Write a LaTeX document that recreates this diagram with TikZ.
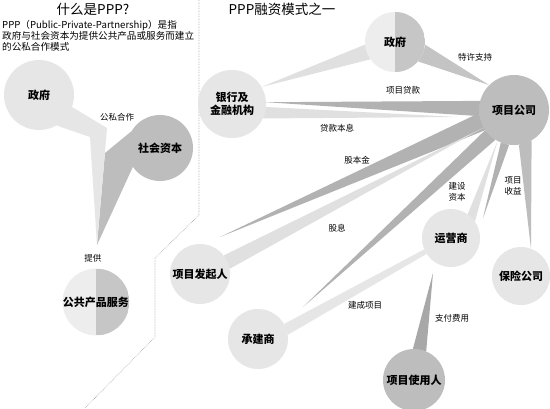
\documentclass[tikz,border=0pt]{standalone}
\usepackage{fontspec}
\setmainfont{Noto Sans CJK SC}
\usetikzlibrary{backgrounds,calc}
\definecolor{lt}{HTML}{E6E6E6}
\definecolor{ltb}{HTML}{EDEDED}
\definecolor{mid}{HTML}{BDBDBD}
\definecolor{halfd}{HTML}{C6C6C6}
\definecolor{bandL}{HTML}{E0E0E0}
\definecolor{bandM}{HTML}{C4C4C4}
\definecolor{bandD}{HTML}{B2B2B2}
\definecolor{bandX}{HTML}{A8A8A8}
\begin{document}
\begin{tikzpicture}[x=1pt,y=-1pt,
  circ/.style={circle,inner sep=0pt,minimum size=#1,
    font=\fontsize{11}{13}\selectfont\bfseries,text=black,align=center},
  halfc/.style={fill=ltb,path picture={\fill[halfd]
    (path picture bounding box.north) rectangle (path picture bounding box.south east);}},
  lab/.style={font=\fontsize{8.5}{10.5}\selectfont,inner sep=0pt,align=center},
  ttl/.style={font=\fontsize{13.5}{16}\selectfont,inner sep=0pt},
  desc/.style={font=\fontsize{9.6}{11}\selectfont,inner sep=0pt,anchor=west},
  divider/.style={densely dotted,gray!70,line width=0.6pt}]
\useasboundingbox (0,0) rectangle (550,408);

% ---------- left panel ----------
\node[ttl] (t1) at (93,9) {什么是PPP?};
\node[desc] (d1) at (2,25) {PPP（Public-Private-Partnership）是指};
\node[desc] (d2) at (2,36) {政府与社会资本为提供公共产品或服务而建立};
\node[desc] (d3) at (2,47) {的公私合作模式};

\node[circ=70pt,fill=lt] (gL) at (39,95) {政府};
\node[circ=66pt,fill=mid] (sh) at (160,148) {社会资本};
\node[circ=66pt,halfc] (gg) at (96,302) {公共产品服务};
\coordinate (tipL) at (97,245);

\node[lab] (l1) at (117,117) {公私合作};
\node[lab] (l2) at (93,258) {提供};

% ---------- divider ----------
\coordinate (v1) at (199,0);
\coordinate (v2) at (199,215);
\coordinate (v3) at (155,258);
\coordinate (v4) at (155,337);
\coordinate (v5) at (85,408);
\draw[divider] (v1) -- (v2) -- (v3) -- (v4) -- (v5);

% ---------- right panel ----------
\node[ttl] (t2) at (282,9) {PPP融资模式之一};

\node[circ=60pt,halfc] (gR) at (395,42) {政府};
\node[circ=70pt,fill=mid] (pc) at (514,110) {项目公司};
\node[circ=68pt,fill=lt] (bk) at (232,104) {银行及\\金融机构};
\node[circ=60pt,fill=lt] (fd) at (200,274) {项目发起人};
\node[circ=60pt,fill=lt] (cj) at (258,339) {承建商};
\node[circ=58pt,fill=lt] (yy) at (451,238) {运营商};
\node[circ=58pt,fill=lt] (bx) at (521,276) {保险公司};
\node[circ=62pt,fill=mid] (yh) at (414,380) {项目使用人};

\coordinate (tA) at (457,117);
\coordinate (tB) at (220,237);
\coordinate (tC) at (303,307);
\coordinate (tD) at (483,218);
\coordinate (tE) at (433,273);

\node[lab] (a1) at (475,57) {特许支持};
\node[lab] (a2) at (403,90) {项目贷款};
\node[lab] (a3) at (337,128) {贷款本息};
\node[lab] (a4) at (357,160) {股本金};
\node[lab] (a5) at (337,228) {股息};
\node[lab] (a6) at (457,192) {建设\\资本};
\node[lab] (a7) at (513,186) {项目\\收益};
\node[lab] (a8) at (365,305) {建成项目};
\node[lab] (a9) at (452,318) {支付费用};

\begin{pgfonlayer}{background}
  \fill[white] (0,0) rectangle (550,408);
  % left panel bands
  \fill[mid] (sh.150) -- (105,153) -- (tipL) -- (sh.215) -- cycle;
  \fill[lt] (gL.-20) -- (107,128) -- (tipL) -- (90,137) -- (gL.-60) -- cycle;
  % right panel bands
  \fill[bandM] (gR.-5) -- (pc.135) -- (gR.-40) -- cycle;
  \fill[bandL] (bk.30) -- (gR.185) -- (gR.215) -- cycle;
  \fill[bandD] (bk.3) -- (pc.165) -- (pc.190) -- cycle;
  \fill[bandL] (bk.-5) -- (tA) -- (bk.-25) -- cycle;
  \fill[bandD] (tB) -- (pc.185) -- (pc.215) -- cycle;
  \fill[bandL] (fd.38) -- (pc.210) -- (fd.10) -- cycle;
  \fill[bandD] (tC) -- (pc.215) -- (pc.238) -- cycle;
  \fill[bandL] (yy.55) -- (pc.242) -- (yy.35) -- cycle;
  \fill[bandD] (tD) -- (pc.248) -- (pc.262) -- cycle;
  \fill[mid] (bx.70) -- (pc.278) -- (pc.300) -- cycle;
  \fill[bandX] (tE) -- (yh.67) -- (yh.92) -- cycle;
  \fill[lt] (cj.8) -- (cj.30) -- (yy.203) -- (yy.213) -- cycle;
\end{pgfonlayer}
\end{tikzpicture}
\end{document}
